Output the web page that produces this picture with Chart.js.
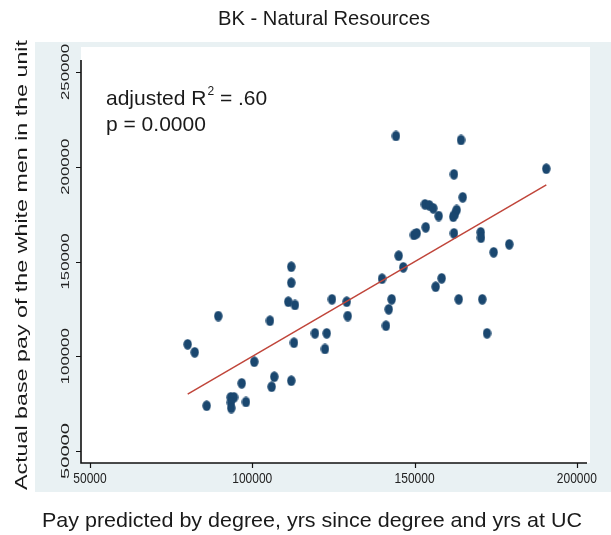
<!DOCTYPE html>
<html>
<head>
<meta charset="utf-8">
<script src="https://cdn.jsdelivr.net/npm/chart.js@4/dist/chart.umd.min.js"></script>
<style>
html,body{margin:0;padding:0;background:#fff;}
canvas{display:block;}
</style>
</head>
<body>
<canvas id="c" width="611" height="535"></canvas>
<script>
// ---- data ----
const predicted = [80100, 82260, 85950, 89530, 93350, 94370, 93440, 93530, 98060, 96740,
  100620, 105460, 105980, 106780, 112020, 112020, 111100, 113160, 112020, 112850,
  119320, 122930, 122400, 124560, 129090, 129400, 139970, 142950, 142030, 141200,
  144280, 145110, 146530, 149820, 150660, 153430, 153210, 154540, 155770, 157430,
  158350, 156510, 162150, 164310, 164830, 162980, 162460, 161940, 162150, 163600,
  170380, 170470, 170870, 172320, 174380, 179190, 190590];
const actual = [106310, 102090, 73900, 121240, 78340, 78340, 75590, 72690, 75860, 85730,
  97130, 118760, 83930, 89210, 147260, 138810, 128790, 127050, 87100, 107150,
  112110, 112110, 103830, 130050, 128790, 121240, 140920, 130050, 124780, 116120,
  216230, 153060, 146940, 163990, 164880, 168050, 180190, 179660, 178070, 174010,
  141130, 136700, 196020, 214120, 183880, 177180, 175070, 173640, 164880, 130050,
  165410, 162560, 130050, 112110, 154860, 159080, 198970];
const fitX = [80100, 190600];
const fitY = [80000, 190400];
const xTicks = [50000, 100000, 150000, 200000];
const yTicks = [50000, 100000, 150000, 200000, 250000];
const titleText = "BK - Natural Resources";
const xTitle = "Pay predicted by degree, yrs since degree and yrs at UC";
const yTitle = "Actual base pay of the white men in the unit";
const noteLine1 = ["adjusted R", "2", " = .60"];
const noteLine2 = "p = 0.0000";

const DOT = '#1a476f';
const FIT = '#c0453a';
const GRAPH_BG = '#e9f1f3';
const FONT = '"Liberation Sans", Arial, Helvetica, sans-serif';

// elliptical marker (slightly taller than wide, like the reference)
const dot = document.createElement('canvas');
dot.width = 9; dot.height = 11;
(function(){
  const g = dot.getContext('2d');
  g.fillStyle = DOT;
  g.beginPath();
  g.ellipse(4.5, 5.5, 4.2, 5.2, 0, 0, Math.PI*2);
  g.fill();
})();

const points = predicted.map((v,i)=>({x:v, y:actual[i]}));
const fitPts = fitX.map((v,i)=>({x:v, y:fitY[i]}));

function stretchText(ctx, text, x, y, size, targetLen, sy, angle, align){
  ctx.save();
  ctx.font = size + 'px ' + FONT;
  const w = ctx.measureText(text).width;
  ctx.translate(x, y);
  ctx.rotate(angle || 0);
  ctx.scale(targetLen ? targetLen / w : 1, sy || 1);
  ctx.textAlign = align || 'center';
  ctx.textBaseline = 'middle';
  ctx.fillText(text, 0, 0);
  ctx.restore();
}

const deco = {
  id: 'deco',
  beforeDraw(chart){
    const ctx = chart.ctx;
    const xs = chart.scales.x, ys = chart.scales.y;
    ctx.save();
    ctx.fillStyle = '#fff';
    ctx.fillRect(0,0,chart.width,chart.height);
    ctx.fillStyle = GRAPH_BG;
    ctx.fillRect(35, 42, chart.width-35, 450);
    ctx.fillStyle = '#fff';
    const l = xs.getPixelForValue(xs.min), r = xs.getPixelForValue(xs.max);
    const b = ys.getPixelForValue(ys.min);
    ctx.fillRect(l, 47, r - l + 3, b - 47);
    ctx.restore();
  },
  afterDraw(chart){
    const ctx = chart.ctx;
    const xs = chart.scales.x, ys = chart.scales.y;
    const l = xs.getPixelForValue(xs.min), r = xs.getPixelForValue(xs.max);
    const t = ys.getPixelForValue(ys.max), b = ys.getPixelForValue(ys.min);
    ctx.save();
    ctx.strokeStyle = '#111';
    ctx.lineWidth = 1.6;
    ctx.beginPath();
    ctx.moveTo(l, t); ctx.lineTo(l, b); ctx.lineTo(r, b);
    ctx.stroke();
    ctx.lineWidth = 1.2;
    ctx.beginPath();
    xTicks.forEach(v=>{ const p = Math.round(xs.getPixelForValue(v))+0.5; ctx.moveTo(p,b); ctx.lineTo(p,b+5); });
    yTicks.forEach(v=>{ const p = Math.round(ys.getPixelForValue(v))+0.5; ctx.moveTo(l,p); ctx.lineTo(l-5,p); });
    ctx.stroke();
    ctx.fillStyle = '#222';
    xTicks.forEach(v=>{
      stretchText(ctx, String(v), xs.getPixelForValue(v), b+16, 12, null, 1.25, 0);
    });
    yTicks.forEach(v=>{
      stretchText(ctx, String(v), l-15, ys.getPixelForValue(v), 12, 56, 0.95, -Math.PI/2);
    });
    ctx.fillStyle = '#1a1a1a';
    stretchText(ctx, titleText, 324, 19, 17, 212, 1.2, 0);
    stretchText(ctx, xTitle, 312, 521, 17, 540, 1.2, 0);
    stretchText(ctx, yTitle, 22, 265, 17, 450, 1.0, -Math.PI/2);
    // annotation
    ctx.textBaseline = 'alphabetic';
    ctx.textAlign = 'left';
    let x0 = 106;
    ctx.font = '21px ' + FONT;
    ctx.fillText(noteLine1[0], x0, 105);
    x0 += ctx.measureText(noteLine1[0]).width + 1;
    ctx.font = '12px ' + FONT;
    ctx.fillText(noteLine1[1], x0, 95);
    x0 += ctx.measureText(noteLine1[1]).width;
    ctx.font = '21px ' + FONT;
    ctx.fillText(noteLine1[2], x0, 105);
    ctx.fillText(noteLine2, 106, 131);
    ctx.restore();
  }
};

new Chart(document.getElementById('c'), {
  type: 'scatter',
  data: {
    datasets: [
      { type: 'line', data: fitPts, borderColor: FIT, borderWidth: 1.5, pointRadius: 0, fill: false, order: 0 },
      { data: points, pointStyle: dot, pointRadius: 5, order: 1 }
    ]
  },
  options: {
    responsive: false,
    animation: false,
    devicePixelRatio: 1,
    layout: { autoPadding: false, padding: { left: 81, right: 24, top: 60, bottom: 72 } },
    plugins: { legend: { display: false }, tooltip: { enabled: false }, title: { display: false } },
    scales: {
      x: { type: 'linear', min: 47230, max: 203130,
           ticks: { display: false }, grid: { display: false, drawTicks: false, tickLength: 0 }, border: { display: false } },
      y: { type: 'linear', min: 43670, max: 256330,
           ticks: { display: false }, grid: { display: false, drawTicks: false, tickLength: 0 }, border: { display: false } }
    }
  },
  plugins: [deco]
});
</script>
</body>
</html>
